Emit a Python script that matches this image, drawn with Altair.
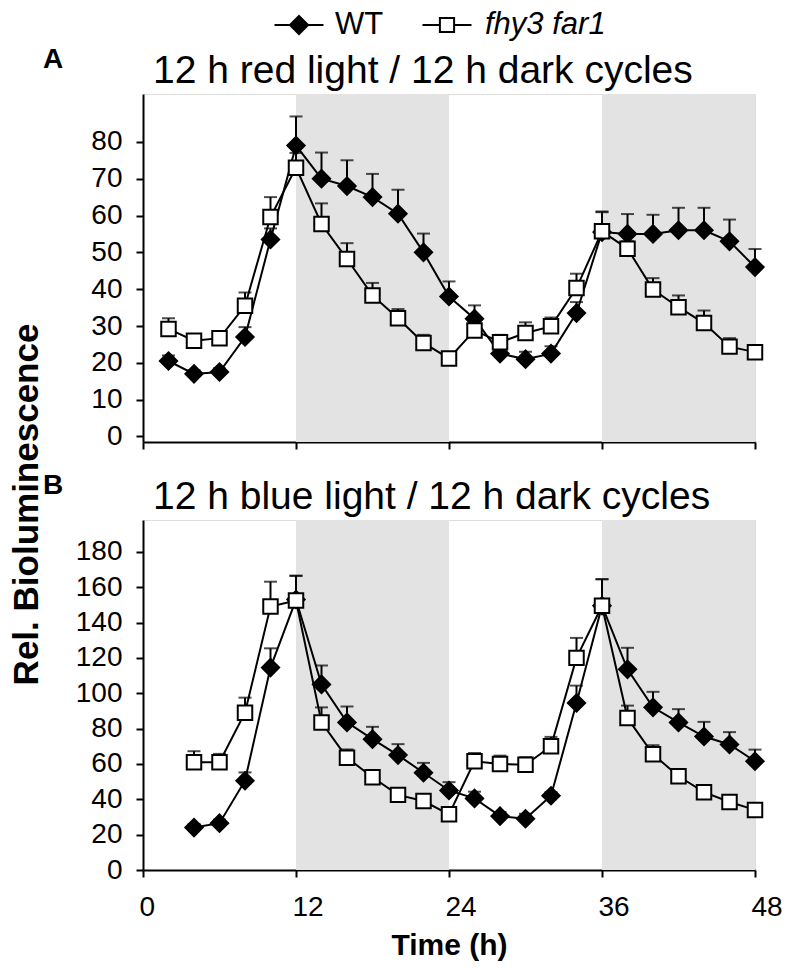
import altair as alt
import pandas as pd

FONT = "Liberation Sans"
series_names = ["WT", "fhy3 far1"]

# ---- Panel A: 12 h red light / 12 h dark ----
red_time = [2, 4, 6, 8, 10, 12, 14, 16, 18, 20, 22, 24,
            26, 28, 30, 32, 34, 36, 38, 40, 42, 44, 46, 48]
red_wt = [20.5, 17, 17.5, 27, 53.5, 79, 70, 68, 65, 60.5, 50, 38,
          32, 22.5, 21, 22.5, 33.5, 55.5, 55, 55, 56, 56, 53, 46]
red_wt_err = [1.5, 1, 1, 2.7, 3, 7.9, 7.1, 7, 6.3, 6.5, 5.1, 4.1,
              3.6, 1, 2, 2, 3, 5.4, 5.4, 5.2, 6.1, 6.1, 5.9, 4.9]
red_mut = [29.2, 26, 26.7, 35.5, 59.6, 73, 57.7, 48.2, 38.3, 32.1, 25.4, 21.2,
           28.8, 25.6, 28.1, 29.9, 40.3, 55.7, 51, 39.9, 35.1, 30.8, 24.4, 22.9]
red_mut_err = [2.9, 1.2, 1.2, 3.6, 5.4, 4, 5.6, 4.3, 3.4, 2.5, 2.2, 1,
               1, 2, 2.9, 2.4, 3.9, 5.4, 2, 3.1, 3.2, 3.4, 2.3, 1]

# ---- Panel B: 12 h blue light / 12 h dark ----
blue_time = [4, 6, 8, 10, 12, 14, 16, 18, 20, 22, 24,
             26, 28, 30, 32, 34, 36, 38, 40, 42, 44, 46, 48]
blue_wt = [24, 26.5, 50.5, 114.5, 153, 105, 83.5, 74, 65, 55, 45,
           40.5, 30.5, 29, 42, 94.5, 149.5, 113.5, 92, 83.5, 75.5, 71, 61.5]
blue_wt_err = [2, 2, 4.7, 10.9, 13.5, 10.7, 9, 7, 6.2, 5.6, 4.7,
               3.8, 2.3, 2.8, 2, 9.8, 15, 12.2, 8.8, 7.5, 8.3, 7, 6.6]
blue_mut = [61, 61, 89, 149, 152.5, 83.5, 63.5, 52.5, 42.5, 39, 31.5,
            61.5, 60, 59.5, 70, 120, 149.5, 86, 65.5, 53, 44, 38.5, 34]
blue_mut_err = [6.2, 4.7, 8.5, 14.1, 13.9, 8.5, 4.7, 2, 1, 1, 1,
                4.7, 4.7, 4.3, 5.3, 11.3, 15, 7, 5.1, 4.1, 1.5, 1, 1]

dark_start = [12, 36]
dark_end = [24, 48]

x_ticks = [0, 12, 24, 36, 48]
red_y_ticks = [0, 10, 20, 30, 40, 50, 60, 70, 80]
blue_y_ticks = [0, 20, 40, 60, 80, 100, 120, 140, 160, 180]

panel_titles = ["12 h red light / 12 h dark cycles",
                "12 h blue light / 12 h dark cycles"]
panel_letters = ["A", "B"]

W = 612


def long_df(times, wt, wt_err, mut, mut_err):
    rows = []
    for t, m, e in zip(times, wt, wt_err):
        rows.append({"time": t, "series": series_names[0], "mean": m, "upper": m + e})
    for t, m, e in zip(times, mut, mut_err):
        rows.append({"time": t, "series": series_names[1], "mean": m, "upper": m + e})
    return pd.DataFrame(rows)


DIAMOND_LEG = "M-1,0L1,0M0,-0.37L0.37,0L0,0.37L-0.37,0Z"
SQUARE_LEG = "M-1,0L-0.29,0M0.29,0L1,0M-0.29,-0.29L0.29,-0.29L0.29,0.29L-0.29,0.29Z"


def panel(df, ydomain, yticks, title, letter, height, bottom, ytitle):
    xscale = alt.Scale(domain=[0, 48], nice=False, zero=False)
    yscale = alt.Scale(domain=ydomain, nice=False, zero=False)
    xaxis = alt.Axis(values=x_ticks, labels=bottom, ticks=True, tickSize=7,
                     tickWidth=2, tickColor="black", domainColor="black",
                     domainWidth=2, grid=False, labelFont=FONT, labelFontSize=28,
                     labelColor="black", labelAlign="left", labelOffset=-4,
                     labelPadding=16, labelFlush=False,
                     title="Time (h)" if bottom else None,
                     titleFont=FONT, titleFontSize=30, titleFontWeight="bold",
                     titleColor="black", titlePadding=9)
    yaxis_kw = dict(values=yticks, tickSize=7, tickWidth=2, tickColor="black",
                    domainColor="black", domainWidth=2, grid=False,
                    labelFont=FONT, labelFontSize=28, labelColor="black",
                    labelPadding=14, labelFlush=False)
    if ytitle:
        yaxis = alt.Axis(title="Rel. Bioluminescence", titleFont=FONT,
                         titleFontSize=35, titleFontWeight="bold",
                         titleColor="black", titleX=-117, titleY=410,
                         titleAngle=270, titleAlign="center",
                         titleBaseline="middle", **yaxis_kw)
    else:
        yaxis = alt.Axis(title=None, **yaxis_kw)

    X = alt.X("time:Q", scale=xscale, axis=xaxis)
    Y = alt.Y("mean:Q", scale=yscale, axis=yaxis)

    dark = pd.DataFrame({"start": dark_start, "end": dark_end})
    shade = alt.Chart(dark).mark_rect(color="#e3e3e3").encode(
        x=alt.X("start:Q", scale=xscale, axis=xaxis), x2="end:Q")

    layers = [shade]
    base = alt.Chart(df)
    for name, shape, fill, size in [(series_names[0], "diamond", "black", 300),
                                    (series_names[1], "square", "white", 210)]:
        sub = base.transform_filter(alt.datum.series == name)
        err = sub.mark_rule(color="black", strokeWidth=2).encode(
            x=X, y=Y, y2="upper:Q")
        cap = sub.mark_tick(color="black", orient="horizontal", size=13,
                            thickness=2).encode(
            x=X, y=alt.Y("upper:Q", scale=yscale, axis=yaxis))
        line = sub.mark_line(color="black", strokeWidth=2).encode(x=X, y=Y)
        pts = sub.mark_point(shape=shape, size=size, fill=fill, stroke="black",
                             strokeWidth=2, opacity=1, fillOpacity=1).encode(x=X, y=Y)
        layers += [err, cap, line, pts]

    # panel letter and panel title (annotation text)
    ann = pd.DataFrame({"letter": [letter], "title": [title]})
    letter_mark = alt.Chart(ann).mark_text(
        font=FONT, fontSize=28, fontWeight="bold", color="black",
        align="center", baseline="middle").encode(
        text="letter:N", x=alt.value(-90), y=alt.value(-34))
    title_mark = alt.Chart(ann).mark_text(
        font=FONT, fontSize=39, color="black", align="left",
        baseline="alphabetic").encode(
        text="title:N", x=alt.value(10), y=alt.value(-11))
    layers += [letter_mark, title_mark]

    if letter == "A":
        leg = pd.DataFrame({"label": series_names})
        for name, path, fill, sx, tx, style in [
                (series_names[0], DIAMOND_LEG, "black", 156, 192, "normal"),
                (series_names[1], SQUARE_LEG, "white", 304, 342, "italic")]:
            one = alt.Chart(leg).transform_filter(alt.datum.label == name)
            sym = one.mark_point(shape=path, size=2401, fill=fill, stroke="black",
                                 strokeWidth=2, opacity=1, fillOpacity=1).encode(
                x=alt.value(sx), y=alt.value(-69))
            txt = one.mark_text(font=FONT, fontSize=31, fontStyle=style,
                                color="black", align="left",
                                baseline="middle").encode(
                text="label:N", x=alt.value(tx), y=alt.value(-69))
            layers += [sym, txt]

    return alt.layer(*layers).properties(width=W, height=height)


top = panel(long_df(red_time, red_wt, red_wt_err, red_mut, red_mut_err),
            [-1.5, 93], red_y_ticks, panel_titles[0], panel_letters[0],
            348, False, True)
bottom = panel(long_df(blue_time, blue_wt, blue_wt_err, blue_mut, blue_mut_err),
               [0, 198], blue_y_ticks, panel_titles[1], panel_letters[1],
               350, True, False)

chart = alt.vconcat(top, bottom, spacing=78, bounds="flush").properties(
    padding={"left": 0, "top": 0, "right": 0, "bottom": 0}
).configure_view(stroke="black", strokeWidth=2).configure(background="white")

chart.save("out.html", embed_options={"renderer": "svg", "actions": False})
